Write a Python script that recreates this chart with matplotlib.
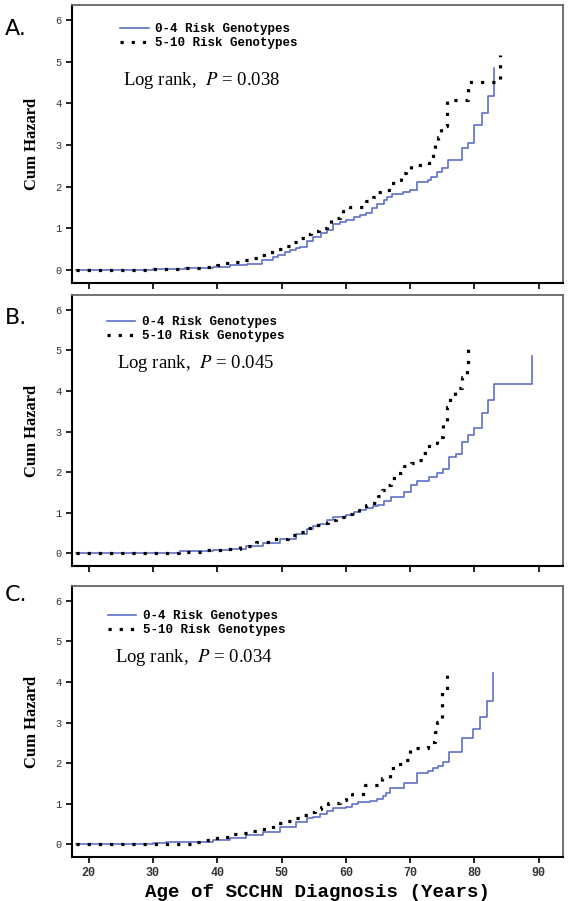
import matplotlib
matplotlib.use("Agg")
import matplotlib.pyplot as plt

# cumulative hazard step points (age, cum hazard)
a_low_age = [18, 30, 35, 39.3, 42, 44.6, 46.9, 48.6, 49.5, 50.5, 51.3, 52.3, 52.8, 53.9, 54.9,
             56.1, 57.0, 58.0, 59.1, 60.1, 61.2, 62.2, 63.2, 64.0, 64.8, 65.9, 66.4, 67.2, 68.9,
             70.0, 71.0, 72.8, 73.3, 74.1, 74.9, 75.9, 78.0, 79.0, 80.0, 81.1, 82.1, 83.0]
a_low_hz = [0, 0.02, 0.04, 0.07, 0.11, 0.15, 0.24, 0.3, 0.36, 0.42, 0.48, 0.52, 0.56, 0.7, 0.78,
            0.89, 0.97, 1.10, 1.16, 1.21, 1.26, 1.32, 1.37, 1.48, 1.58, 1.68, 1.76, 1.82, 1.88,
            1.93, 2.12, 2.17, 2.24, 2.36, 2.44, 2.65, 2.92, 3.05, 3.47, 3.76, 4.17, 4.84]
a_high_age = [18, 30, 34, 38, 40, 41.2, 42.7, 44, 45.8, 46.9, 48.1, 49.2, 50.5, 51.5, 52.6,
              53.6, 54.6, 55.9, 57.0, 57.7, 59.1, 59.6, 60.6, 63.2, 64.2, 65.0, 66.3, 67.1,
              67.9, 68.6, 69.4, 70.2, 73.0, 73.5, 73.9, 74.3, 74.8, 75.8, 79.0, 84.0]
a_high_hz = [0, 0.02, 0.05, 0.08, 0.11, 0.16, 0.2, 0.24, 0.28, 0.36, 0.44, 0.5, 0.58, 0.66, 0.76,
             0.86, 0.94, 1.0, 1.1, 1.24, 1.32, 1.42, 1.52, 1.65, 1.76, 1.86, 1.92, 2.08,
             2.16, 2.32, 2.41, 2.53, 2.65, 2.78, 3.0, 3.2, 3.45, 4.09, 4.52, 5.16]

b_low_age = [18, 30, 34.2, 39.3, 41.9, 44.5, 47.1, 49.7, 52.3, 53.9, 54.9, 56.0, 57.0, 58.0,
             60.1, 61.2, 62.2, 63.2, 64.3, 65.0, 66.0, 67.1, 69.1, 70.2, 71.0, 73.0, 74.1,
             75.1, 76.0, 77.2, 78.0, 79.0, 80.0, 81.1, 82.1, 83.0, 89.0]
b_low_hz = [0, 0.02, 0.05, 0.08, 0.12, 0.18, 0.26, 0.35, 0.47, 0.6, 0.67, 0.73, 0.81, 0.89,
            0.95, 1.03, 1.07, 1.11, 1.17, 1.19, 1.28, 1.40, 1.52, 1.68, 1.79, 1.89, 1.99,
            2.07, 2.38, 2.45, 2.75, 2.91, 3.08, 3.46, 3.78, 4.16, 4.85]
b_high_age = [18, 30, 34, 38, 41, 43.5, 46, 48.5, 51, 52.5, 54.1, 55.2, 56.2, 57.2, 58.5,
              60.1, 61.0, 62.0, 63.2, 64.0, 65.0, 65.6, 66.3, 67.1, 68.1, 69.1, 70.2, 71.0,
              72.0, 73.0, 74.1, 75.1, 75.8, 76.2, 77.0, 78.0, 78.8, 79.0]
b_high_hz = [0, 0.02, 0.04, 0.08, 0.12, 0.19, 0.27, 0.36, 0.45, 0.53, 0.62, 0.70, 0.75, 0.82, 0.9,
             0.97, 1.03, 1.08, 1.19, 1.23, 1.41, 1.56, 1.68, 1.85, 1.99, 2.14, 2.22, 2.30,
             2.46, 2.71, 2.87, 3.22, 3.6, 3.82, 4.07, 4.35, 4.52, 5.13]

c_low_age = [18, 30, 32, 34.2, 39.3, 42, 44.5, 47.1, 49.7, 52.3, 53.9, 54.9, 56.0, 57.0, 58.0,
             60.1, 60.9, 61.9, 63.7, 64.8, 65.8, 66.3, 66.9, 69.0, 71.0, 72.8, 73.6, 74.4,
             75.1, 76.0, 78.0, 79.8, 80.9, 81.9, 82.9]
c_low_hz = [0, 0.03, 0.05, 0.07, 0.11, 0.16, 0.23, 0.31, 0.44, 0.56, 0.64, 0.68, 0.76, 0.83, 0.89,
            0.93, 0.99, 1.05, 1.08, 1.11, 1.18, 1.26, 1.38, 1.50, 1.75, 1.81, 1.87, 1.93,
            2.04, 2.28, 2.61, 2.83, 3.13, 3.54, 4.22]
c_high_age = [18, 31, 36, 37.8, 39.3, 40.9, 42.2, 43.7, 45.0, 46.3, 47.8, 49.2, 50.5, 51.8,
              52.8, 54.1, 55.2, 56.2, 57.2, 59.1, 60.1, 60.9, 63.0, 65.6, 66.9, 68.0, 69.0,
              70.0, 72.8, 73.8, 74.1, 75.0, 75.8]
c_high_hz = [0, 0.01, 0.05, 0.11, 0.15, 0.19, 0.26, 0.29, 0.34, 0.37, 0.44, 0.53, 0.58, 0.64,
             0.72, 0.81, 0.87, 0.93, 1.03, 1.09, 1.19, 1.25, 1.46, 1.63, 1.87, 1.99, 2.08,
             2.37, 2.53, 2.77, 3.02, 3.76, 4.30]

panel_letters = ["A.", "B.", "C."]
p_values = ["0.038", "0.045", "0.034"]
series_labels = ["0-4 Risk Genotypes", "5-10 Risk Genotypes"]
y_ticks = [0, 1, 2, 3, 4, 5, 6]
x_ticks = [20, 30, 40, 50, 60, 70, 80, 90]

panels = [
    (a_low_age, a_low_hz, a_high_age, a_high_hz),
    (b_low_age, b_low_hz, b_high_age, b_high_hz),
    (c_low_age, c_low_hz, c_high_age, c_high_hz),
]

plt.rcParams['mathtext.fontset'] = 'stix'

fig = plt.figure(figsize=(5.7, 9.01), dpi=100)
boxes = [[0.126, 0.686, 0.861, 0.3085],
         [0.126, 0.3718, 0.861, 0.3008],
         [0.126, 0.0488, 0.861, 0.3008]]
legend_pos = [(0.098, 0.935), (0.071, 0.922), (0.073, 0.911)]
text_pos = [(0.104, 0.730), (0.092, 0.749), (0.088, 0.738)]
letter_y = [29, 318, 595]

blue = '#5d70c6'
mono = ['Liberation Mono', 'DejaVu Sans Mono']
serif = ['Liberation Serif', 'DejaVu Serif']

for i, (la, lh, ha, hh) in enumerate(panels):
    ax = fig.add_axes(boxes[i])
    ax.step(la, lh, where='post', color=blue, lw=1.2, label=series_labels[0])
    ax.step(ha, hh, where='post', color='black', lw=2.3,
            linestyle=(0, (1, 2.5)), label=series_labels[1])

    ax.set_xlim(17.4, 93.7)
    ax.set_ylim(-0.31, 6.36)
    ax.set_yticks(y_ticks)
    ax.set_xticks(x_ticks)
    ax.tick_params(direction='out', length=4, width=1.2, labelsize=7.5,
                   labelcolor='#333333')
    for lab in ax.get_yticklabels():
        lab.set_family(mono)
    if i < 2:
        ax.set_xticklabels([])
    else:
        for lab in ax.get_xticklabels():
            lab.set_family(mono)
            lab.set_fontweight('bold')
            lab.set_fontsize(8.5)
        ax.set_xlabel("Age of SCCHN Diagnosis (Years)", family=mono,
                      fontweight='bold', fontsize=13.8, labelpad=3)

    for s in ['top', 'right']:
        ax.spines[s].set_color('#666666')
        ax.spines[s].set_linewidth(1.3)
    for s in ['left', 'bottom']:
        ax.spines[s].set_color('black')
        ax.spines[s].set_linewidth(1.5)

    ax.set_ylabel("Cum Hazard", family=serif, fontweight='bold', fontsize=12)
    ax.yaxis.set_label_coords(-0.065, 0.5)

    ax.legend(loc='upper left', bbox_to_anchor=legend_pos[i], frameon=False,
              handlelength=2.3, handletextpad=0.5, labelspacing=0.15,
              borderpad=0, borderaxespad=0,
              prop={'family': mono, 'weight': 'bold', 'size': 9})

    ax.text(text_pos[i][0], text_pos[i][1],
            "Log rank,  $P$ = " + p_values[i],
            transform=ax.transAxes, ha='left', va='center',
            family=serif, fontsize=13.5)

    fig.text(5 / 570, 1 - letter_y[i] / 901, panel_letters[i],
             ha='left', va='center', fontsize=16)

fig.savefig("out.png", dpi=100)
